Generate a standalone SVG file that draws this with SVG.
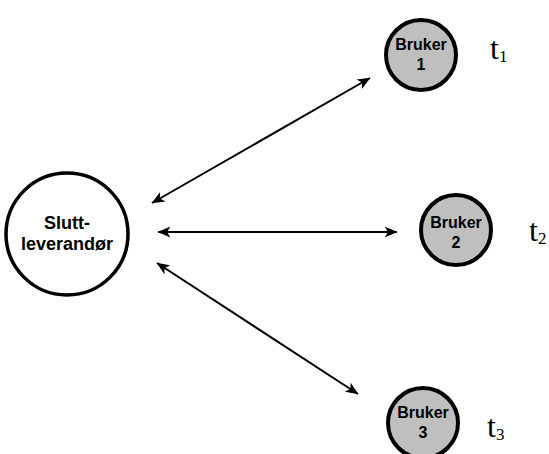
<svg xmlns="http://www.w3.org/2000/svg" width="549" height="454" viewBox="0 0 549 454">
<style>
.main{fill:#fff;stroke:#000;stroke-width:3.5}
.user{fill:#bfbfbf;stroke:#000;stroke-width:4}
.lbl{font-family:"Liberation Sans",Arial,sans-serif;font-weight:bold;text-anchor:middle;fill:#000}
.t{font-family:"Liberation Serif","Times New Roman",serif;fill:#000}
.conn{stroke:#000;stroke-width:2;fill:none;marker-start:url(#ah);marker-end:url(#ah)}
</style>
<defs>
<marker id="ah" viewBox="0 0 13 11" refX="12.5" refY="5.5" markerWidth="13" markerHeight="11" markerUnits="userSpaceOnUse" orient="auto-start-reverse">
<path d="M0,0 L13,5.5 L0,11 L3.5,5.5 z" fill="#000"/>
</marker>
</defs>
<g id="connectors">
<line class="conn" x1="152" y1="203" x2="370" y2="78"/>
<line class="conn" x1="158" y1="232" x2="397" y2="232"/>
<line class="conn" x1="157" y1="263" x2="358" y2="394"/>
</g>
<g id="sluttleverandor">
<circle class="main" cx="67" cy="234" r="61"/>
<text class="lbl" font-size="18" x="67" y="229">Slutt-</text>
<text class="lbl" font-size="18" x="67" y="250">leverandør</text>
</g>
<g id="bruker1">
<circle class="user" cx="421" cy="55" r="35"/>
<text class="lbl" font-size="16" x="421" y="50">Bruker</text>
<text class="lbl" font-size="16" x="421" y="70">1</text>
</g>
<g id="bruker2">
<circle class="user" cx="456" cy="230" r="35"/>
<text class="lbl" font-size="16" x="456" y="228">Bruker</text>
<text class="lbl" font-size="16" x="456" y="248">2</text>
</g>
<g id="bruker3">
<circle class="user" cx="423" cy="423" r="35"/>
<text class="lbl" font-size="16" x="423" y="418">Bruker</text>
<text class="lbl" font-size="16" x="423" y="438">3</text>
</g>
<g id="t1"><text class="t" font-size="32" x="490" y="59">t<tspan font-size="17" dy="3">1</tspan></text></g>
<g id="t2"><text class="t" font-size="32" x="529" y="241">t<tspan font-size="17" dy="3">2</tspan></text></g>
<g id="t3"><text class="t" font-size="32" x="487" y="437">t<tspan font-size="17" dy="3">3</tspan></text></g>
</svg>
